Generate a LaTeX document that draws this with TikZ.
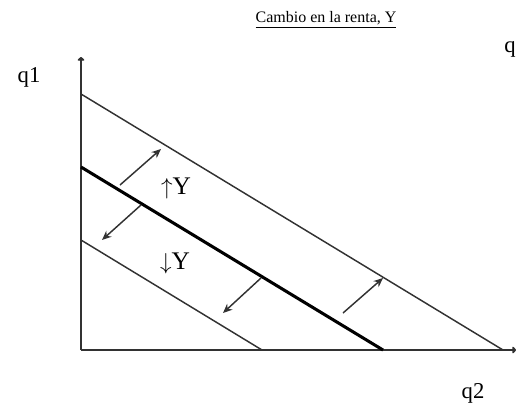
\documentclass[tikz,border=0pt]{standalone}
\usepackage{fontspec}
\setmainfont{Liberation Serif}
\usetikzlibrary{arrows.meta, positioning}
\definecolor{linegray}{RGB}{50, 50, 50}
\tikzset{
    axisline/.style={draw, linegray, line width=1.5pt, -{To[length=3pt, width=5pt]}},
    budget/.style={draw, linegray, line width=1.1pt},
    mainbudget/.style={draw, black, line width=2.3pt},
    move/.style={draw, linegray, line width=1.1pt, -{Stealth[length=7pt, width=6pt]}},
    label/.style={inner sep=0pt, font=\fontsize{17}{20}\selectfont},
    change/.style={inner sep=0pt, font=\fontsize{19}{22}\selectfont}
}
\begin{document}
\begin{tikzpicture}[x=0.75pt, y=-0.75pt]
    \useasboundingbox (0,0) rectangle (517,404);

    % axes
    \coordinate (origin) at (81,350);
    \coordinate (ytop) at (81,57);
    \coordinate (xend) at (516,350);
    \draw[axisline] (origin) -- (ytop);
    \draw[axisline] (origin) -- (xend);

    % budget lines
    \coordinate (hiA) at (81,94);
    \coordinate (hiB) at (503,350);
    \coordinate (midA) at (81,167);
    \coordinate (midB) at (383,350);
    \coordinate (loA) at (81,240);
    \coordinate (loB) at (262,350);
    \draw[budget] (hiA) -- (hiB);
    \draw[mainbudget] (midA) -- (midB);
    \draw[budget] (loA) -- (loB);

    % shifts
    \coordinate (up1s) at (120,185);
    \coordinate (up1e) at (161,149);
    \coordinate (up2s) at (343,313);
    \coordinate (up2e) at (383,278);
    \coordinate (dn1s) at (141,205);
    \coordinate (dn1e) at (102,240);
    \coordinate (dn2s) at (261,278);
    \coordinate (dn2e) at (223,313);
    \draw[move] (up1s) -- (up1e);
    \draw[move] (up2s) -- (up2e);
    \draw[move] (dn1s) -- (dn1e);
    \draw[move] (dn2s) -- (dn2e);

    % labels
    \node[font=\fontsize{12}{14}\selectfont] (title) at (326,20) {\underline{Cambio en la renta, Y}};
    \node[label] (q1) at (29,77) {q1};
    \node[label, anchor=west] (q) at (504,49) {q};
    \node[label] (q2) at (473,393) {q2};
    \node[change] (upY) at (176,188) {$\uparrow$Y};
    \node[change] (downY) at (175,263) {$\downarrow$Y};
\end{tikzpicture}
\end{document}
